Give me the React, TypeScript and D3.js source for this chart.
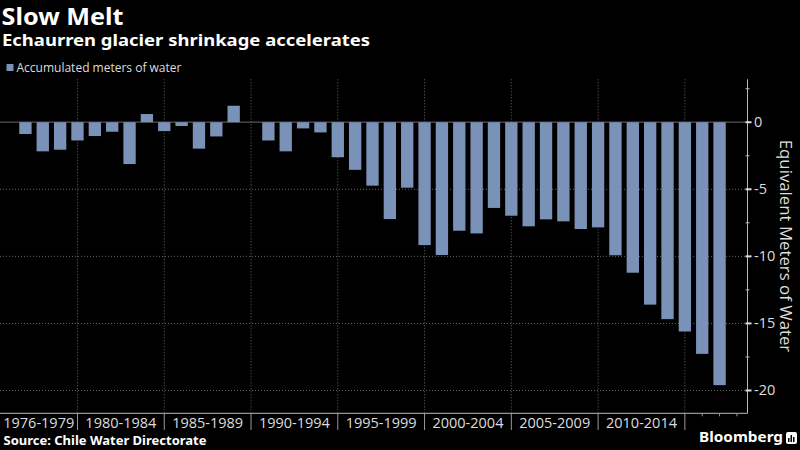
import React from "react";
import * as d3 from "d3";

const years: string[] = [
  "1976", "1977", "1978", "1979", "1980", "1981", "1982", "1983", "1984", "1985",
  "1986", "1987", "1988", "1989", "1990", "1991", "1992", "1993", "1994", "1995",
  "1996", "1997", "1998", "1999", "2000", "2001", "2002", "2003", "2004", "2005",
  "2006", "2007", "2008", "2009", "2010", "2011", "2012", "2013", "2014", "2015", "2016",
];
const meters: number[] = [
  -0.88, -2.17, -2.05, -1.36, -1.03, -0.71, -3.12, 0.61, -0.66, -0.28,
  -1.97, -1.06, 1.23, 0.0, -1.36, -2.17, -0.46, -0.76, -2.61, -3.55,
  -4.73, -7.22, -4.88, -9.16, -9.9, -8.09, -8.29, -6.39, -6.97, -7.76,
  -7.24, -7.39, -7.96, -7.84, -9.92, -11.22, -13.6, -14.68, -15.6, -17.27, -19.6,
];
const periodLabels: string[] = [
  "1976-1979", "1980-1984", "1985-1989", "1990-1994",
  "1995-1999", "2000-2004", "2005-2009", "2010-2014",
];
const periodEnds: string[] = ["1979", "1984", "1989", "1994", "1999", "2004", "2009", "2014"];
const yMajorTicks: number[] = [0, -5, -10, -15, -20];
const yMinorTicks: number[] = [2.5, -2.5, -7.5, -12.5, -17.5];

const W = 800;
const H = 450;
const plotLeft = 0;
const plotRight = 747.5;
const plotTop = 79.3;
const plotBottom = 413.3;
const FONT = "'Open Sans', 'Noto Sans', sans-serif";
const BOLD = "'Noto Sans', 'Open Sans', sans-serif";
const BAR = "#7b92b8";

export default function App() {
  const x = d3
    .scaleBand<string>()
    .domain(years)
    .range([plotLeft, 745])
    .paddingInner(0.29)
    .paddingOuter(1.11);
  const y = d3.scaleLinear().domain([3.2, -21.7]).range([plotTop, plotBottom]);
  const bw = x.bandwidth();
  const cx = (yr: string) => (x(yr) as number) + bw / 2;
  const bounds = periodEnds.map(cx);
  const extraTicks = [cx("2015"), cx("2016"), cx("2016") + x.step()];

  return (
    <svg
      width={W}
      height={H}
      style={{ position: "absolute", left: 0, top: 0, background: "#000" }}
      fontFamily={FONT}
    >
      <rect x={0} y={0} width={W} height={H} fill="#000" />
      {/* Titles */}
      <text x={1.5} y={25} fill="#fff" fontSize={24} fontWeight={700} fontFamily={BOLD}
        textLength={122} lengthAdjust="spacingAndGlyphs">Slow Melt</text>
      <text x={2} y={45.5} fill="#fff" fontSize={16.5} fontWeight={700} fontFamily={BOLD}
        textLength={368} lengthAdjust="spacingAndGlyphs">
        Echaurren glacier shrinkage accelerates
      </text>
      {/* Legend */}
      <rect x={6.5} y={64} width={7} height={7} fill={BAR} />
      <text x={16.5} y={71.5} fill="#ddd" fontSize={12}>Accumulated meters of water</text>

      {/* Grid */}
      {yMajorTicks.filter((t) => t !== 0).map((t) => (
        <line key={"hg" + t} x1={plotLeft} x2={plotRight} y1={y(t)} y2={y(t)}
          stroke="#666" strokeWidth={1} strokeDasharray="1,2" />
      ))}
      {bounds.map((b, i) => (
        <line key={"vg" + i} x1={b} x2={b} y1={plotTop} y2={plotBottom}
          stroke="#666" strokeWidth={1} strokeDasharray="1,2" />
      ))}
      <line x1={plotLeft} x2={plotRight} y1={y(0)} y2={y(0)} stroke="#555" strokeWidth={1.2} />

      {/* Bars */}
      {years.map((yr, i) => {
        const v = meters[i];
        const y0 = y(Math.max(0, v));
        const y1 = y(Math.min(0, v));
        return (
          <rect key={yr} x={x(yr)} y={y0} width={bw} height={Math.max(0, y1 - y0)} fill={BAR} />
        );
      })}

      {/* X axis */}
      <line x1={plotLeft} x2={plotRight} y1={plotBottom} y2={plotBottom} stroke="#bbb" strokeWidth={1} />
      {bounds.map((b, i) => (
        <line key={"sep" + i} x1={b} x2={b} y1={plotBottom} y2={430} stroke="#999" strokeWidth={1} />
      ))}
      {extraTicks.map((t, i) => (
        <line key={"xt" + i} x1={t} x2={t} y1={plotBottom} y2={plotBottom + 3} stroke="#999" strokeWidth={1} />
      ))}
      {periodLabels.map((lab, i) => {
        const left = i === 0 ? plotLeft : bounds[i - 1];
        const right = bounds[i];
        return (
          <text key={lab} x={(left + right) / 2} y={427.5} fill="#ddd" fontSize={14.5} textAnchor="middle">
            {lab}
          </text>
        );
      })}

      {/* Y axis */}
      <line x1={plotRight} x2={plotRight} y1={plotTop} y2={plotBottom} stroke="#bbb" strokeWidth={1} />
      {yMinorTicks.map((t) => (
        <line key={"mt" + t} x1={plotRight - 2} x2={plotRight + 2} y1={y(t)} y2={y(t)} stroke="#bbb" strokeWidth={1} />
      ))}
      {yMajorTicks.map((t) => (
        <g key={"yt" + t}>
          <line x1={plotRight - 2} x2={plotRight + 4} y1={y(t)} y2={y(t)} stroke="#ddd" strokeWidth={2} />
          <text x={754} y={y(t) + 5} fill="#ddd" fontSize={14.5}>
            {t === 0 ? "0" : "-" + Math.abs(t)}
          </text>
        </g>
      ))}
      <text
        transform={`translate(780, 246) rotate(90)`}
        fill="#ddd"
        fontSize={16.8}
        textAnchor="middle"
      >
        Equivalent Meters of Water
      </text>

      {/* Footer */}
      <text x={3.5} y={445} fill="#fff" fontSize={12.5} fontWeight={700} fontFamily={BOLD}
        textLength={203} lengthAdjust="spacingAndGlyphs">
        Source: Chile Water Directorate
      </text>
      <text x={699} y={442} fill="#fff" fontSize={15} fontWeight={700} fontFamily={BOLD}
        textLength={84} lengthAdjust="spacingAndGlyphs">Bloomberg</text>
      <rect x={786} y={432} width={11} height={12} rx={2} fill="#fff" />
      <rect x={788} y={438} width={1.5} height={4} fill="#000" />
      <rect x={790.5} y={435} width={1.5} height={7} fill="#000" />
      <rect x={793} y={437} width={1.5} height={5} fill="#000" />
    </svg>
  );
}
